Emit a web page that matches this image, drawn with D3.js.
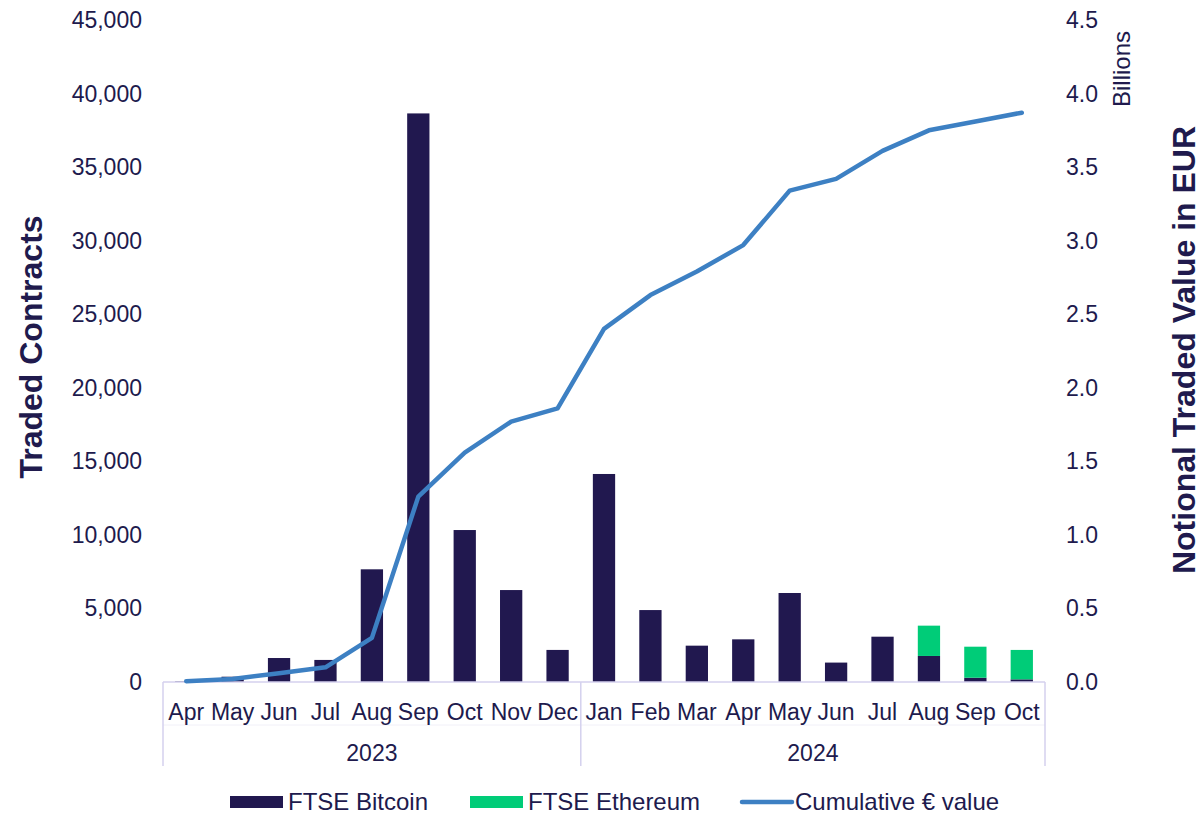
<!DOCTYPE html>
<html lang="en">
<head>
  <meta charset="UTF-8" />
  <title>FTSE Crypto Futures Traded Contracts</title>
  <script src="https://d3js.org/d3.v7.min.js"></script>
  <style>
    body { margin: 0; background: #fff; font-family: "Liberation Sans", Arial, sans-serif; }
    svg { display: block; }
    .tick-label { font-size: 23px; fill: #201a4d; }
    .axis-title { font-size: 32px; font-weight: bold; fill: #201a4d; }
    .legend-text { font-size: 24px; fill: #201a4d; }
  </style>
</head>
<body>
  <div id="chart"></div>
  <script>
    // --- Data ---
    const months = ["Apr", "May", "Jun", "Jul", "Aug", "Sep", "Oct", "Nov", "Dec",
                    "Jan", "Feb", "Mar", "Apr", "May", "Jun", "Jul", "Aug", "Sep", "Oct"];
    const years = ["2023", "2023", "2023", "2023", "2023", "2023", "2023", "2023", "2023",
                   "2024", "2024", "2024", "2024", "2024", "2024", "2024", "2024", "2024", "2024"];
    const bitcoin = [40, 360, 1630, 1500, 7660, 38650, 10330, 6250, 2180,
                     14140, 4890, 2470, 2900, 6050, 1320, 3080, 1770, 290, 180];
    const ethereum = [0, 0, 0, 0, 0, 0, 0, 0, 0,
                      0, 0, 0, 0, 0, 0, 0, 2060, 2110, 2000];
    const cumulative = [0.005, 0.02, 0.06, 0.10, 0.30, 1.26, 1.56, 1.77, 1.86,
                        2.40, 2.63, 2.79, 2.97, 3.34, 3.42, 3.61, 3.75, 3.81, 3.87];
    const leftTicks = [0, 5000, 10000, 15000, 20000, 25000, 30000, 35000, 40000, 45000];
    const rightTicks = [0, 0.5, 1.0, 1.5, 2.0, 2.5, 3.0, 3.5, 4.0, 4.5];

    const colors = { bitcoin: "#21184f", ethereum: "#00cc78", line: "#3d80c3", axis: "#d4d1ee" };

    const W = 1204, H = 814;
    const plot = { left: 163, right: 1045, top: 20, bottom: 682 };

    const svg = d3.select("#chart").append("svg").attr("width", W).attr("height", H);

    const keys = months.map((m, i) => years[i] + "-" + m);
    const x = d3.scaleBand().domain(keys).range([plot.left, plot.right]).padding(0);
    const yL = d3.scaleLinear().domain([0, 45000]).range([plot.bottom, plot.top]);
    const yR = d3.scaleLinear().domain([0, 4.5]).range([plot.bottom, plot.top]);
    const barW = x.bandwidth() * 0.48;
    const cx = i => x(keys[i]) + x.bandwidth() / 2;

    const rows = keys.map((k, i) => ({ i, btc: bitcoin[i], eth: ethereum[i], cum: cumulative[i] }));

    // --- Left axis labels ---
    svg.append("g").selectAll("text").data(leftTicks).join("text")
      .attr("class", "tick-label")
      .attr("x", 142).attr("y", d => yL(d)).attr("dy", "0.35em")
      .attr("text-anchor", "end")
      .text(d => d3.format(",")(d));

    // --- Right axis labels ---
    svg.append("g").selectAll("text").data(rightTicks).join("text")
      .attr("class", "tick-label")
      .attr("x", 1066).attr("y", d => yR(d)).attr("dy", "0.35em")
      .text(d => d3.format(".1f")(d));

    // --- Bars (stacked) ---
    const bars = svg.append("g");
    bars.selectAll(".btc").data(rows).join("rect")
      .attr("class", "btc")
      .attr("x", d => cx(d.i) - barW / 2)
      .attr("width", barW)
      .attr("y", d => yL(d.btc))
      .attr("height", d => yL(0) - yL(d.btc))
      .attr("fill", colors.bitcoin);

    bars.selectAll(".eth").data(rows.filter(d => d.eth > 0)).join("rect")
      .attr("class", "eth")
      .attr("x", d => cx(d.i) - barW / 2)
      .attr("width", barW)
      .attr("y", d => yL(d.btc + d.eth))
      .attr("height", d => yL(d.btc) - yL(d.btc + d.eth))
      .attr("fill", colors.ethereum);

    // --- Category axis (months + year groups) ---
    const axisG = svg.append("g");
    axisG.append("line")
      .attr("x1", plot.left).attr("x2", plot.right)
      .attr("y1", plot.bottom).attr("y2", plot.bottom)
      .attr("stroke", colors.axis).attr("stroke-width", 1.5);
    axisG.append("line")
      .attr("x1", plot.left).attr("x2", plot.right)
      .attr("y1", 725).attr("y2", 725)
      .attr("stroke", "#f1f0f8").attr("stroke-width", 1);

    const groups = d3.groups(rows, d => years[d.i]).map(([yr, items]) => ({
      yr, start: x(keys[items[0].i]), end: x(keys[items[items.length - 1].i]) + x.bandwidth()
    }));
    const bounds = [plot.left].concat(groups.map(g => g.end));
    axisG.selectAll(".sep").data(bounds).join("line")
      .attr("class", "sep")
      .attr("x1", d => d).attr("x2", d => d)
      .attr("y1", plot.bottom).attr("y2", 766)
      .attr("stroke", colors.axis).attr("stroke-width", 1.5);

    axisG.selectAll(".month").data(rows).join("text")
      .attr("class", "tick-label month")
      .attr("x", d => cx(d.i)).attr("y", 712).attr("dy", "0.35em")
      .attr("text-anchor", "middle")
      .text(d => months[d.i]);

    axisG.selectAll(".year").data(groups).join("text")
      .attr("class", "tick-label year")
      .attr("x", d => (d.start + d.end) / 2).attr("y", 753).attr("dy", "0.35em")
      .attr("text-anchor", "middle")
      .text(d => d.yr);

    // --- Cumulative value line ---
    const line = d3.line().x(d => cx(d.i)).y(d => yR(d.cum));
    svg.append("path")
      .datum(rows)
      .attr("d", line)
      .attr("fill", "none")
      .attr("stroke", colors.line)
      .attr("stroke-width", 4.5)
      .attr("stroke-linejoin", "round")
      .attr("stroke-linecap", "round");

    // --- Axis titles ---
    svg.append("text")
      .attr("class", "axis-title")
      .attr("transform", "translate(42,347) rotate(-90)")
      .attr("text-anchor", "middle")
      .text("Traded Contracts");

    svg.append("text")
      .attr("class", "axis-title")
      .attr("transform", "translate(1195,350) rotate(-90)")
      .attr("text-anchor", "middle")
      .text("Notional Traded Value in EUR");

    svg.append("text")
      .attr("class", "tick-label")
      .style("font-size", "24px")
      .attr("transform", "translate(1130,69) rotate(-90)")
      .attr("text-anchor", "middle")
      .text("Billions");

    // --- Legend ---
    const legendItems = [
      { label: "FTSE Bitcoin", type: "rect", color: colors.bitcoin, x: 230 },
      { label: "FTSE Ethereum", type: "rect", color: colors.ethereum, x: 470 },
      { label: "Cumulative € value", type: "line", color: colors.line, x: 740 }
    ];
    const legend = svg.append("g");
    legendItems.forEach(item => {
      const g = legend.append("g").attr("transform", `translate(${item.x},802)`);
      if (item.type === "rect") {
        g.append("rect").attr("x", 0).attr("y", -6).attr("width", 53).attr("height", 12).attr("fill", item.color);
      } else {
        g.append("line").attr("x1", 2).attr("x2", 52).attr("y1", 0).attr("y2", 0)
          .attr("stroke", item.color).attr("stroke-width", 4.5).attr("stroke-linecap", "round");
      }
      g.append("text").attr("class", "legend-text")
        .attr("x", item.type === "rect" ? 58 : 55).attr("y", 0).attr("dy", "0.35em")
        .text(item.label);
    });
  </script>
</body>
</html>
